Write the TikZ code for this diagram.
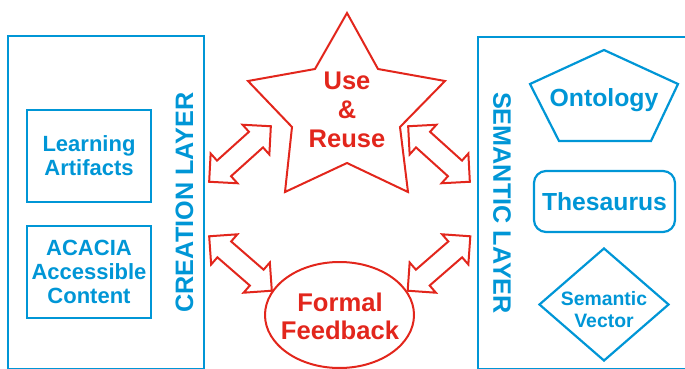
\documentclass[tikz,border=0pt]{standalone}
\usepackage{fontspec}
\setmainfont{Liberation Sans}
\usepackage{tikz}
\usetikzlibrary{shapes.geometric,shapes.arrows}
\definecolor{layerblue}{RGB}{0,150,214}
\definecolor{loopred}{RGB}{226,38,28}

\begin{document}
\begin{tikzpicture}[
  x=1pt, y=-1pt,
  layer/.style={draw=layerblue, line width=2.8pt},
  lbl/.style={text=layerblue, font=\bfseries\fontsize{25.2}{28}\selectfont},
  item/.style={
    draw=layerblue, line width=2.2pt, text=layerblue,
    align=center, inner sep=0pt
  },
  loop/.style={draw=loopred, line width=2pt},
  looptxt/.style={
    text=loopred, align=center, inner sep=0pt,
    font=\bfseries\fontsize{25.5}{29}\selectfont
  },
  dbl/.style={
    double arrow, draw=loopred, line width=2pt, fill=white,
    double arrow tip angle=90, double arrow head extend=9.5pt,
    inner sep=9.5pt, minimum height=83pt, minimum width=38pt
  }
]
  \useasboundingbox (0,0) rectangle (685,369);
  % the two layers
  \draw[layer] (8,369) rectangle (204,36);
  \draw[layer] (478,369) rectangle (700,37);
  \node[lbl, rotate=90] (creation) at (184.5,202.5) {CREATION LAYER};
  \node[lbl, rotate=-90] (semantic) at (502,203) {SEMANTIC LAYER};

  % creation side
  \node[item, minimum width=124pt, minimum height=92pt,
    font=\bfseries\fontsize{22}{24}\selectfont] (artifacts) at (89,156)
    {Learning\\Artifacts};
  \node[item, minimum width=124pt, minimum height=92pt,
    font=\bfseries\fontsize{22}{24}\selectfont] (acacia) at (89,272)
    {ACACIA\\Accessible\\Content};

  % semantic side
  \draw[item] (604,50) -- (678,84) -- (651,141) -- (559,141) -- (530,84) -- cycle;
  \node[text=layerblue, anchor=base, font=\bfseries\fontsize{24.8}{28}\selectfont]
    (ontology) at (604,106) {Ontology};
  \node[item, rounded corners=12pt, minimum width=141pt, minimum height=61pt,
    font=\bfseries\fontsize{24.7}{28}\selectfont] (thesaurus) at (604.5,201.5)
    {Thesaurus};
  \node[item, diamond, minimum width=130pt, minimum height=113pt]
    (vector) at (604,304.5) {};
  \node[text=layerblue, align=center, inner sep=0pt,
    font=\bfseries\fontsize{19.4}{22}\selectfont] (vectortxt) at (604,309.5)
    {Semantic\\Vector};

  % use and feedback
  \draw[loop] (347,13) -- (378,69) -- (445,81) -- (400,127) -- (408,192)
    -- (347,163) -- (285,192) -- (292,127) -- (248,81) -- (315,69) -- cycle;
  \node[looptxt] (reuse) at (347,109.5) {Use\\\&\\Reuse};
  \node[loop, ellipse, minimum width=149pt, minimum height=106pt]
    (feedback) at (339.5,315) {};
  \node[looptxt, font=\bfseries\fontsize{25.6}{28}\selectfont]
    (feedbacktxt) at (340,316.5) {Formal\\Feedback};

  \foreach \nm/\x/\y/\a in {ul/240/154/42, ur/439/154/-42,
    ll/240.5/263.5/-41, lr/439/263.5/41} {
    \node[dbl, rotate=\a] (\nm) at (\x,\y) {};
  }
\end{tikzpicture}
\end{document}
